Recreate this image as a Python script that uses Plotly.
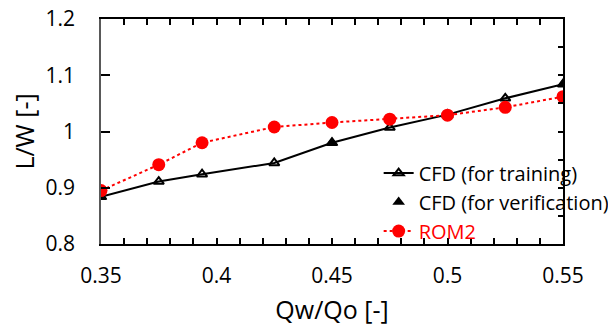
import plotly.graph_objects as go

# Data
x_train = [0.35, 0.375, 0.39375, 0.425, 0.45, 0.475, 0.5, 0.525, 0.55]
y_train = [0.884, 0.911, 0.924, 0.944, 0.980, 1.007, 1.030, 1.059, 1.084]

x_verif = [0.35, 0.45, 0.5, 0.55]
y_verif = [0.884, 0.980, 1.030, 1.084]

x_rom = [0.35, 0.375, 0.39375, 0.425, 0.45, 0.475, 0.5, 0.525, 0.55]
y_rom = [0.895, 0.941, 0.980, 1.008, 1.016, 1.022, 1.029, 1.043, 1.062]

x_ticks = [0.35, 0.4, 0.45, 0.5, 0.55]
x_ticklabels = ["0.35", "0.4", "0.45", "0.5", "0.55"]
y_ticks = [0.8, 0.9, 1.0, 1.1, 1.2]
y_ticklabels = ["0.8", "0.9", "1", "1.1", "1.2"]
y_right_ticks = [0.8, 0.85, 0.9, 0.95, 1.0, 1.05, 1.1, 1.15, 1.2]

FONT = "'Open Sans', 'Noto Sans', sans-serif"

fig = go.Figure()

fig.add_trace(go.Scatter(
    x=x_train, y=y_train, mode="lines+markers", name="CFD (for training)",
    line=dict(color="black", width=2),
    marker=dict(symbol="triangle-up-open", size=9, color="black", line=dict(width=2, color="black")),
))
fig.add_trace(go.Scatter(
    x=x_verif, y=y_verif, mode="markers", name="CFD (for verification)",
    marker=dict(symbol="triangle-up", size=11, color="black"),
))
fig.add_trace(go.Scatter(
    x=x_rom, y=y_rom, mode="lines+markers", name="<span style='color:#ff0000'>ROM2</span>",
    line=dict(color="#ff0000", width=2, dash="dot"),
    marker=dict(symbol="circle", size=13, color="#ff0000"),
))
# invisible trace for right-side axis ticks
fig.add_trace(go.Scatter(x=[0.35], y=[0.8], yaxis="y2", mode="markers",
                         marker=dict(opacity=0), showlegend=False, hoverinfo="skip"))

fig.update_layout(
    width=608, height=327,
    margin=dict(l=101, r=45, t=19, b=83, autoexpand=False),
    paper_bgcolor="white", plot_bgcolor="white",
    font=dict(family=FONT, size=21, color="black"),
    showlegend=True,
    legend=dict(x=0.601, y=0.402, xanchor="left", yanchor="top",
                bgcolor="rgba(0,0,0,0)", font=dict(size=20, family=FONT),
                tracegroupgap=0, itemwidth=30),
    xaxis=dict(
        range=[0.35, 0.55], tickvals=x_ticks, ticktext=x_ticklabels,
        ticks="inside", ticklen=6, tickwidth=1.5, tickcolor="black",
        minor=dict(dtick=0.01, ticks="inside", ticklen=6, tickwidth=1.5, tickcolor="black"),
        showline=True, linecolor="black", linewidth=1.5, mirror="ticks",
        showgrid=False, zeroline=False, ticklabelstandoff=12,
        title=dict(text="Qw/Qo [-]", standoff=14),
    ),
    yaxis=dict(
        range=[0.8, 1.2], tickvals=y_ticks, ticktext=y_ticklabels,
        ticks="inside", ticklen=9, tickwidth=1.5, tickcolor="black",
        showline=True, linecolor="#595959", linewidth=1.5,
        showgrid=False, zeroline=False, ticklabelstandoff=20,
        title=dict(text="L/W [-]", standoff=4),
    ),
    yaxis2=dict(
        range=[0.8, 1.2], overlaying="y", side="right",
        tickvals=y_right_ticks, showticklabels=False,
        ticks="inside", ticklen=5, tickwidth=1.5, tickcolor="black",
        showline=True, linecolor="black", linewidth=1.5,
        showgrid=False, zeroline=False,
    ),
)

fig.write_html("out.html", config={"displayModeBar": False},
               post_script="document.body.style.margin='0';")
